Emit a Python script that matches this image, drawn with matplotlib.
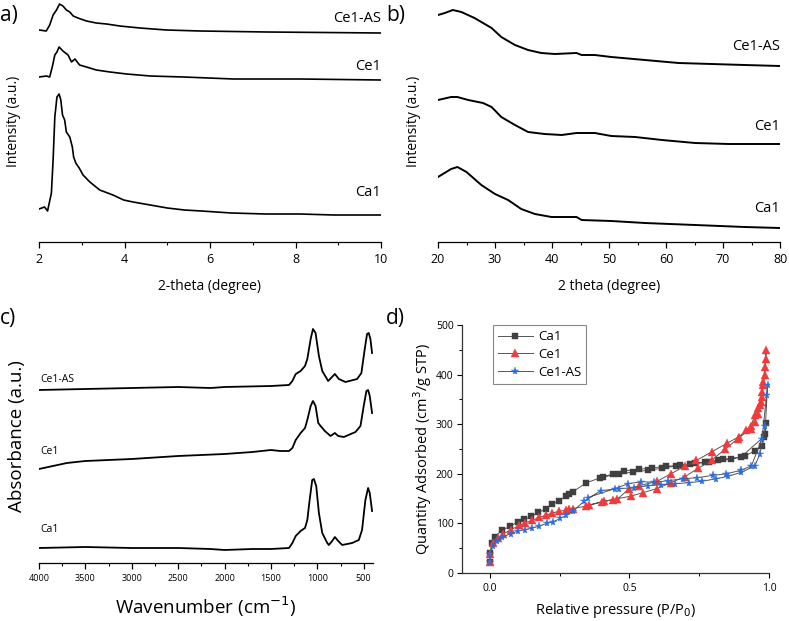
import matplotlib

matplotlib.use("Agg")
import matplotlib.pyplot as plt
from matplotlib.ticker import MultipleLocator, FixedLocator

plt.rcParams["font.family"] = ["Open Sans", "DejaVu Sans"]

W, H = 789, 621

# ---------------- data: a) low-angle XRD ----------------
samples = ["Ca1", "Ce1", "Ce1-AS"]

xa_ca1 = [2.0, 2.13, 2.2, 2.29, 2.33, 2.37, 2.42, 2.47, 2.51, 2.55, 2.6, 2.64, 2.72,
          2.78, 2.81, 2.86, 2.94, 3.03, 3.19, 3.42, 3.73, 3.98, 4.2, 4.6, 5.0, 5.4,
          5.8, 6.5, 7.3, 8.1, 8.9, 10.0]
ya_ca1 = [6, 8, 4, 22, 55, 98, 118, 121, 115, 100, 95, 83, 78, 68, 58, 52, 47, 40,
          33, 25, 20, 15, 13, 10, 7, 5, 4, 2, 1, 1, 0, 0]
xa_ce1 = [2.0, 2.17, 2.25, 2.31, 2.37, 2.42, 2.47, 2.56, 2.68, 2.76, 2.84, 2.95, 3.11,
          3.34, 3.66, 4.05, 4.6, 5.38, 6.55, 8.11, 10.0]
ya_ce1 = [3, 4, 3, 13, 25, 28, 33, 29, 25, 18, 21, 15, 13, 10, 8, 6, 4, 3, 1, 1, 0]
xa_ce1as = [2.0, 2.17, 2.25, 2.33, 2.41, 2.48, 2.56, 2.64, 2.72, 2.8, 2.91, 3.11,
            3.34, 3.58, 3.89, 4.36, 4.98, 5.77, 7.33, 10.0]
ya_ce1as = [3, 2, 8, 18, 23, 29, 27, 23, 21, 17, 15, 12, 10, 9, 7, 5, 3, 2, 1, 0]

# ---------------- data: b) wide-angle XRD ----------------
xb_ca1 = [20, 22.3, 23.4, 25, 27.6, 30, 32.3, 34.6, 37, 39.9, 44.3, 45.2, 50.4, 56.3,
          65.1, 73.8, 80]
yb_ca1 = [51, 59, 61, 56, 43, 34, 28, 19, 14, 11, 11, 8, 7, 5, 3, 1, 0]
xb_ce1 = [20, 22.3, 23.4, 25.3, 27.9, 29.4, 31.1, 33.5, 35.8, 38.7, 41.7, 44.3, 47.5,
          50.4, 54.6, 59.3, 65.1, 71, 80]
yb_ce1 = [44, 47, 47, 44, 41, 37, 27, 19, 12, 10, 9, 11, 11, 8, 7, 4, 1, 0, 0]
xb_ce1as = [20, 21.2, 22.6, 24.1, 26.4, 29.4, 31.1, 33.5, 35.8, 38.1, 40.5, 44.3,
            45.2, 47.5, 50.4, 56.3, 62.2, 68, 73.8, 80]
yb_ce1as = [51, 53, 56, 54, 48, 38, 29, 21, 16, 13, 12, 13, 11, 11, 9, 6, 3, 2, 1, 0]

# ---------------- data: c) FTIR ----------------
xc_ca1 = [4000, 3500, 3000, 2500, 2150, 2000, 1700, 1500, 1305, 1269, 1233, 1180,
          1133, 1108, 1083, 1055, 1037, 1012, 983, 947, 893, 876, 840, 811, 775,
          732, 625, 553, 518, 482, 453, 435, 410]
yc_ca1 = [0, 1, 0, 0, -1, -2, -1, -1, 0, 5, 12, 17, 20, 28, 48, 68, 69, 62, 35, 15,
          5, 3, 7, 11, 7, 3, 5, 8, 18, 48, 60, 55, 37]
xc_ce1 = [4000, 3700, 3500, 3000, 2500, 2000, 1700, 1500, 1400, 1305, 1269, 1233,
          1180, 1133, 1108, 1072, 1047, 1019, 990, 965, 919, 858, 811, 775, 714,
          589, 535, 500, 471, 453, 435, 410]
yc_ce1 = [0, 6, 8, 10, 13, 15, 17, 19, 18, 18, 21, 29, 36, 41, 49, 63, 68, 63, 46,
          43, 38, 33, 36, 33, 32, 37, 43, 63, 78, 79, 73, 56]
xc_ce1as = [4000, 3500, 3000, 2500, 2150, 2000, 1500, 1305, 1269, 1233, 1180, 1133,
            1108, 1072, 1047, 1019, 983, 947, 883, 811, 768, 697, 571, 525, 489,
            464, 446, 428, 410]
yc_ce1as = [0, 1, 2, 3, 2, 3, 4, 5, 9, 16, 19, 24, 31, 51, 61, 57, 34, 19, 9, 16,
            11, 8, 11, 17, 41, 56, 57, 51, 37]

# ---------------- data: d) N2 isotherms ----------------
pd_ca1 = [0.0, 0.001, 0.006, 0.018, 0.042, 0.072, 0.1, 0.123, 0.149, 0.173, 0.2,
          0.223, 0.247, 0.271, 0.283, 0.298, 0.346, 0.406, 0.462, 0.513, 0.567,
          0.615, 0.668, 0.717, 0.77, 0.817, 0.865, 0.913, 0.949, 0.976, 0.99,
          0.987, 0.982, 0.9, 0.835, 0.785, 0.734, 0.68, 0.632, 0.581, 0.533, 0.481,
          0.442, 0.396]
qd_ca1 = [22, 40, 61, 73, 86, 94, 103, 108, 114, 122, 129, 139, 145, 155, 160, 164,
          182, 194, 199, 204, 207, 211, 216, 220, 223, 227, 229, 236, 246, 256, 302,
          281, 275, 234, 229, 224, 221, 217, 215, 212, 209, 206, 200, 192]
pd_ce1 = [0.0, 0.001, 0.012, 0.03, 0.048, 0.075, 0.104, 0.125, 0.152, 0.175, 0.2,
          0.223, 0.247, 0.271, 0.283, 0.298, 0.346, 0.4, 0.442, 0.505, 0.549, 0.597,
          0.648, 0.698, 0.746, 0.794, 0.841, 0.889, 0.934, 0.949, 0.96, 0.968,
          0.975, 0.98, 0.985, 0.99,
          0.988, 0.985, 0.98, 0.975, 0.97, 0.96, 0.95, 0.935, 0.919, 0.893, 0.851,
          0.794, 0.74, 0.698, 0.648, 0.6, 0.535, 0.499, 0.457, 0.409, 0.354]
qd_ce1 = [22, 39, 61, 71, 79, 87, 96, 101, 106, 112, 116, 121, 124, 127, 129, 130,
          135, 143, 148, 155, 162, 170, 182, 194, 211, 227, 249, 271, 291, 305, 320,
          338, 365, 385, 415, 450,
          432, 400, 380, 355, 345, 332, 318, 297, 288, 275, 262, 244, 227, 215, 200,
          185, 176, 170, 149, 145, 137]
pd_ce1as = [0.0, 0.001, 0.01, 0.024, 0.044, 0.075, 0.101, 0.125, 0.152, 0.175,
            0.203, 0.227, 0.251, 0.274, 0.298, 0.338, 0.397, 0.462, 0.517, 0.567,
            0.612, 0.662, 0.712, 0.76, 0.811, 0.853, 0.901, 0.949, 0.967, 0.987,
            0.993, 0.995,
            0.975, 0.937, 0.899, 0.847, 0.8, 0.743, 0.692, 0.638, 0.588, 0.543,
            0.495, 0.447, 0.35]
qd_ce1as = [22, 39, 54, 64, 73, 79, 85, 87, 91, 94, 100, 103, 110, 116, 125, 145,
            166, 170, 172, 176, 178, 180, 182, 185, 190, 195, 203, 216, 239, 296,
            359, 379,
            271, 216, 207, 200, 197, 192, 190, 186, 183, 184, 180, 170, 152]

# stacking offsets and label heights (a.u.)
offsets_a = [27, 162, 209]
label_y_a = [49, 176, 224]
offsets_b = [14, 98, 176]
label_y_b = [34, 115, 195]
offsets_c = [15, 94, 173]
label_y_c = [33, 111, 183]


def px_axes(fig, left, top, right, bottom):
    return fig.add_axes([left / W, 1 - bottom / H, (right - left) / W, (bottom - top) / H])


def spectrum_style(ax, tick_size):
    for s in ("left", "top", "right"):
        ax.spines[s].set_visible(False)
    ax.spines["bottom"].set_linewidth(0.9)
    ax.set_yticks([])
    ax.tick_params(axis="x", which="major", direction="out", length=4, width=0.9,
                   labelsize=tick_size, pad=4)
    ax.tick_params(axis="x", which="minor", direction="out", length=2.5, width=0.8)


fig = plt.figure(figsize=(W / 100, H / 100), dpi=100)

# ---------------- a) ----------------
ax = px_axes(fig, 39, 0, 381, 242)
for xs, ys, off in zip([xa_ca1, xa_ce1, xa_ce1as], [ya_ca1, ya_ce1, ya_ce1as], offsets_a):
    ax.plot(xs, [v + off for v in ys], color="black", lw=1.2)
for name, ly in zip(samples, label_y_a):
    ax.text(10, ly, name, ha="right", va="center", fontsize=10.5)
ax.set_xlim(2, 10)
ax.set_ylim(0, 242)
ax.xaxis.set_major_locator(MultipleLocator(2))
ax.xaxis.set_minor_locator(MultipleLocator(1))
spectrum_style(ax, 9)
ax.set_xlabel("2-theta (degree)", fontsize=10, labelpad=9)
ax.set_ylabel("Intensity (a.u.)", fontsize=10)
ax.yaxis.set_label_coords(-0.052, 0.5)

# ---------------- b) ----------------
ax = px_axes(fig, 438, 0, 780, 242)
for xs, ys, off in zip([xb_ca1, xb_ce1, xb_ce1as], [yb_ca1, yb_ce1, yb_ce1as], offsets_b):
    ax.plot(xs, [v + off for v in ys], color="black", lw=1.4)
for name, ly in zip(samples, label_y_b):
    ax.text(80, ly, name, ha="right", va="center", fontsize=10.5)
ax.set_xlim(20, 80)
ax.set_ylim(0, 242)
ax.xaxis.set_major_locator(MultipleLocator(10))
ax.xaxis.set_minor_locator(MultipleLocator(5))
spectrum_style(ax, 9)
ax.set_xlabel("2 theta (degree)", fontsize=10, labelpad=9)
ax.set_ylabel("Intensity (a.u.)", fontsize=10)
ax.yaxis.set_label_coords(-0.049, 0.5)

# ---------------- c) ----------------
ax = px_axes(fig, 39, 310, 373, 563)
for xs, ys, off in zip([xc_ca1, xc_ce1, xc_ce1as], [yc_ca1, yc_ce1, yc_ce1as], offsets_c):
    ax.plot(xs, [v + off for v in ys], color="black", lw=1.3)
for name, ly in zip(samples, label_y_c):
    ax.text(3990, ly, name, ha="left", va="center", fontsize=7.5)
ax.set_xlim(4000, 400)
ax.set_ylim(0, 253)
ax.xaxis.set_major_locator(FixedLocator([4000, 3500, 3000, 2500, 2000, 1500, 1000, 500]))
ax.xaxis.set_minor_locator(MultipleLocator(250))
spectrum_style(ax, 6.5)
ax.set_xlabel("Wavenumber (cm$^{-1}$)", fontsize=13.5, labelpad=8)
ax.set_ylabel("Absorbance (a.u.)", fontsize=13.5)
ax.yaxis.set_label_coords(-0.039, 0.5)

# ---------------- d) ----------------
ax = px_axes(fig, 462, 325, 769, 573)
series_d = [
    (pd_ca1, qd_ca1, "#404040", "s", 4.2),
    (pd_ce1, qd_ce1, "#f23a3c", "^", 5.2),
    (pd_ce1as, qd_ce1as, "#2a6fe0", "*", 5.8),
]
for (p, q, col, mk, ms), name in zip(series_d, samples):
    ax.plot(p, q, color="#555555", lw=0.7, marker=mk, ms=ms, mfc=col, mec=col,
            mew=0.3, label=name)
ax.set_xlim(-0.1, 1.0)
ax.set_ylim(0, 500)
for s in ("top", "right"):
    ax.spines[s].set_visible(False)
for s in ("left", "bottom"):
    ax.spines[s].set_linewidth(0.9)
    ax.spines[s].set_color("#333333")
ax.set_xticks([0.0, 0.5, 1.0])
ax.set_xticklabels(["0.0", "0.5", "1.0"])
ax.xaxis.set_minor_locator(FixedLocator([0.25, 0.75]))
ax.yaxis.set_major_locator(MultipleLocator(100))
ax.yaxis.set_minor_locator(MultipleLocator(50))
ax.tick_params(which="major", direction="out", length=3.5, width=0.8, labelsize=7.5)
ax.tick_params(axis="y", which="major", pad=2.5)
ax.tick_params(which="minor", direction="out", length=2, width=0.7)
ax.set_xlabel("Relative pressure (P/P$_0$)", fontsize=10.5, labelpad=5)
ax.set_ylabel("Quantity Adsorbed (cm$^3$/g STP)", fontsize=10.5)
ax.yaxis.set_label_coords(-0.092, 0.5)
leg = ax.legend(loc="upper left", bbox_to_anchor=(0.101, 1.0), borderaxespad=0,
                fontsize=9.5, frameon=True, fancybox=False, edgecolor="#888888",
                framealpha=1, borderpad=0.4, handlelength=2.6, labelspacing=0.35,
                handletextpad=0.4)
leg.get_frame().set_linewidth(0.8)

# ---------------- panel letters ----------------
for lab, x, y in [("a)", 0, 15), ("b)", 386, 15), ("c)", 0, 318), ("d)", 386, 318)]:
    fig.text(x / W, 1 - y / H, lab, fontsize=15, ha="left", va="center")

fig.savefig("out.png", dpi=100)
